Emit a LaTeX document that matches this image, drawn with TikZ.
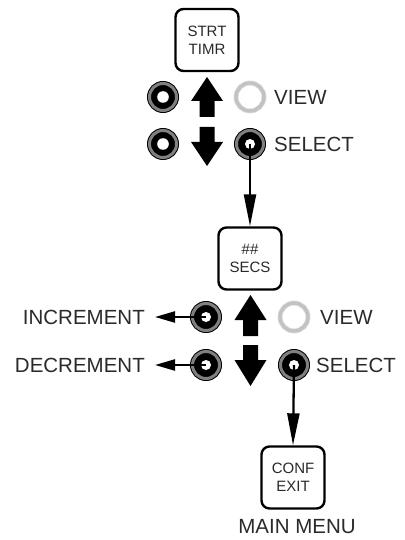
\documentclass[tikz,border=0pt]{standalone}
\usepackage{fontspec}
\setmainfont{Liberation Sans}
\usetikzlibrary{arrows.meta}
\definecolor{keyring}{HTML}{808080}
\definecolor{viewring}{HTML}{C2C2C2}
\definecolor{labelgray}{HTML}{2A2A2A}

\begin{document}
\begin{tikzpicture}[x=1pt,y=-1pt,
  box/.style={draw=black,line width=2.4pt,rounded corners=8pt,fill=white,minimum width=63pt,minimum height=62pt,inner sep=0pt,align=center,text=labelgray,font=\fontsize{15}{18}\selectfont},
  btn/.style={circle,inner sep=0pt,minimum size=27pt,fill=black,draw=black,line width=1pt,double=keyring,double distance=3pt,
    path picture={\fill[white] (path picture bounding box.center) circle (#1);}},
  viewbtn/.style={circle,inner sep=0pt,minimum size=28pt,draw=viewring!50,line width=0.8pt,double=viewring,double distance=3.4pt,fill=white},
  lbl/.style={inner sep=0pt,text=labelgray,font=\fontsize{20.5}{24}\selectfont},
  wire/.style={line width=2.3pt}]
\useasboundingbox (0,0) rectangle (404,540);
% menu boxes
\node[box] (strt) at (207,40) {STRT\\TIMR};
\node[box] (secs) at (250,258.5) {\#\#\\SECS};
\node[box] (conf) at (293,477.5) {CONF\\EXIT};
\node[lbl] (mainlbl) at (297,527) {MAIN MENU};
% first key pad
\node[btn=5.8pt] (lkeyA) at (163,97) {};
\node[btn=5.8pt] (lkeyB) at (163,144) {};
\node[viewbtn] (viewA) at (250,97) {};
\node[btn=5pt] (selA) at (250,144) {};
\node[lbl,anchor=west] (viewlblA) at (274,97) {VIEW};
\node[lbl,anchor=west] (sellblA) at (274,144) {SELECT};
\fill (207,77) -- (223,101) -- (214.5,101) -- (214.5,117) -- (199.5,117) -- (199.5,101) -- (191,101) -- cycle;
\fill (199.5,127) -- (214.5,127) -- (214.5,142) -- (223,142) -- (207,166) -- (191,142) -- (199.5,142) -- cycle;
% second key pad
\node[btn=5pt] (inc) at (206,317) {};
\node[btn=5pt] (dec) at (206,365) {};
\node[viewbtn] (viewB) at (294,317) {};
\node[btn=5pt] (selB) at (294,365) {};
\node[lbl,anchor=east] (inclbl) at (145,317) {INCREMENT};
\node[lbl,anchor=east] (declbl) at (145,365) {DECREMENT};
\node[lbl,anchor=west] (viewlblB) at (320,317) {VIEW};
\node[lbl,anchor=west] (sellblB) at (316,365) {SELECT};
\fill (250.5,295) -- (266.5,320) -- (258,320) -- (258,336) -- (243,336) -- (243,320) -- (234.5,320) -- cycle;
\fill (243,345) -- (258,345) -- (258,360) -- (266.5,360) -- (250.5,386) -- (234.5,360) -- (243,360) -- cycle;
% connectors
\draw[wire,-{Triangle[length=32pt,width=12pt]}] (selA.center) -- (secs.north);
\draw[wire,-{Triangle[length=32pt,width=12pt]}] (selB.center) -- (conf.north);
\draw[wire,-{Triangle[length=20pt,width=11pt]}] (inc.center) -- ([xshift=10pt]inclbl.east);
\draw[wire,-{Triangle[length=20pt,width=11pt]}] (dec.center) -- ([xshift=10pt]declbl.east);
\end{tikzpicture}
\end{document}
